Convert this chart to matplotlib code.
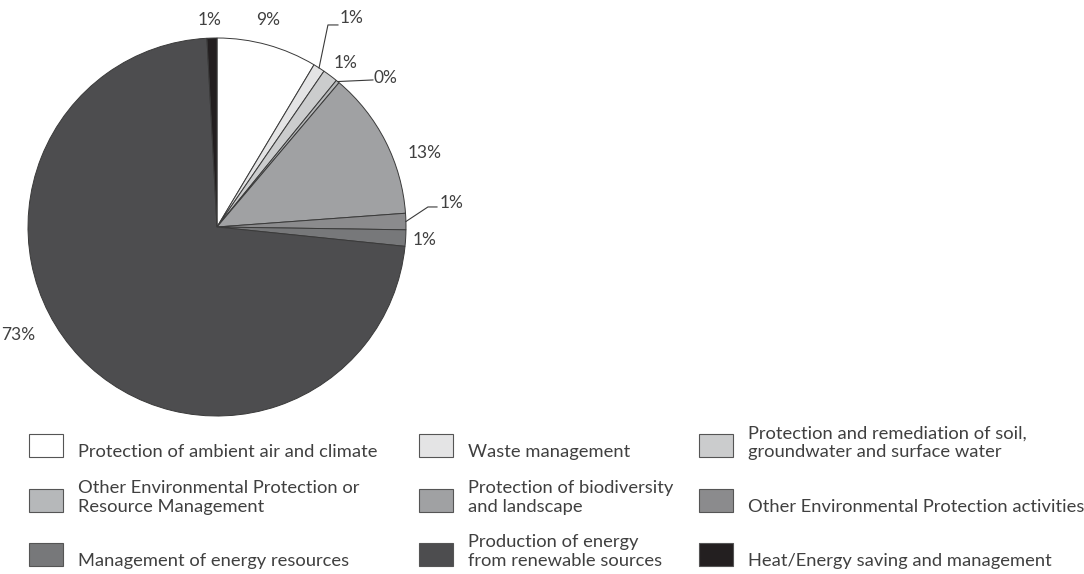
import numpy as np
import matplotlib.pyplot as plt
from matplotlib.patches import Rectangle

categories = [
    "Protection of ambient air and climate",
    "Waste management",
    "Protection and remediation of soil,\ngroundwater and surface water",
    "Other Environmental Protection or\nResource Management",
    "Protection of biodiversity\nand landscape",
    "Other Environmental Protection activities",
    "Management of energy resources",
    "Production of energy\nfrom renewable sources",
    "Heat/Energy saving and management",
]
shares = [8.6, 1.0, 1.3, 0.3, 12.7, 1.4, 1.4, 72.7, 0.85]
pct_labels = ["9%", "1%", "1%", "0%", "13%", "1%", "1%", "73%", "1%"]
colors = ["#ffffff", "#e4e4e5", "#cbcccd", "#b6b8ba", "#a0a1a3",
          "#8b8b8d", "#77787a", "#4d4d4f", "#231f20"]

plt.rcParams["font.family"] = ["Lato", "DejaVu Sans"]
txt_color = "#404040"

fig = plt.figure(figsize=(10.84, 5.74), dpi=100)
W, H = 1084, 574
cx, cy, r = 217, 227, 189
ax = fig.add_axes([(cx - r) / W, (H - cy - r) / H, 2 * r / W, 2 * r / H])

wedges, _ = ax.pie(shares, colors=colors, startangle=90, counterclock=False,
                   wedgeprops=dict(edgecolor="#3a3a3a", linewidth=0.7))
ax.set_xlim(-1, 1)
ax.set_ylim(-1, 1)
ax.set_aspect("equal")
ax.axis("off")

# label positions (in pie radius units) and optional leader elbows
label_pos = [(0.27, 1.095), (0.71, 1.105), (0.68, 0.868), (0.89, 0.79),
             (1.10, 0.39), (1.243, 0.127), (1.10, -0.069), (-1.053, -0.571),
             (-0.04, 1.095)]
leaders = {1: [(0.587, 1.069), (0.64, 1.069)],
           3: [(0.825, 0.778)],
           5: [(1.116, 0.106), (1.164, 0.106)]}

for i, w in enumerate(wedges):
    ax.text(label_pos[i][0], label_pos[i][1], pct_labels[i], ha="center",
            va="center", fontsize=12.5, color=txt_color, clip_on=False)
    if i in leaders:
        mid = np.deg2rad((w.theta1 + w.theta2) / 2)
        pts = [(np.cos(mid), np.sin(mid))] + leaders[i]
        xs, ys = zip(*pts)
        ax.plot(xs, ys, color="#3a3a3a", lw=0.8, clip_on=False)

# legend grid, 3 columns x 3 rows
col_x = [29, 419, 699]
row_y = [457, 512, 566]  # bottom of boxes (pixels from top)
box_w, box_h = 34, 23
for i, (lab, col) in enumerate(zip(categories, colors)):
    x0 = col_x[i % 3]
    yb = row_y[i // 3]
    fig.add_artist(Rectangle((x0 / W, (H - yb) / H), box_w / W, box_h / H,
                             transform=fig.transFigure, facecolor=col,
                             edgecolor="#555555", linewidth=0.8))
    fig.text((x0 + box_w + 15) / W, (H - yb) / H, lab, ha="left",
             va="baseline", fontsize=13.2, color=txt_color, linespacing=1.22)

fig.savefig("out.png", dpi=100)
